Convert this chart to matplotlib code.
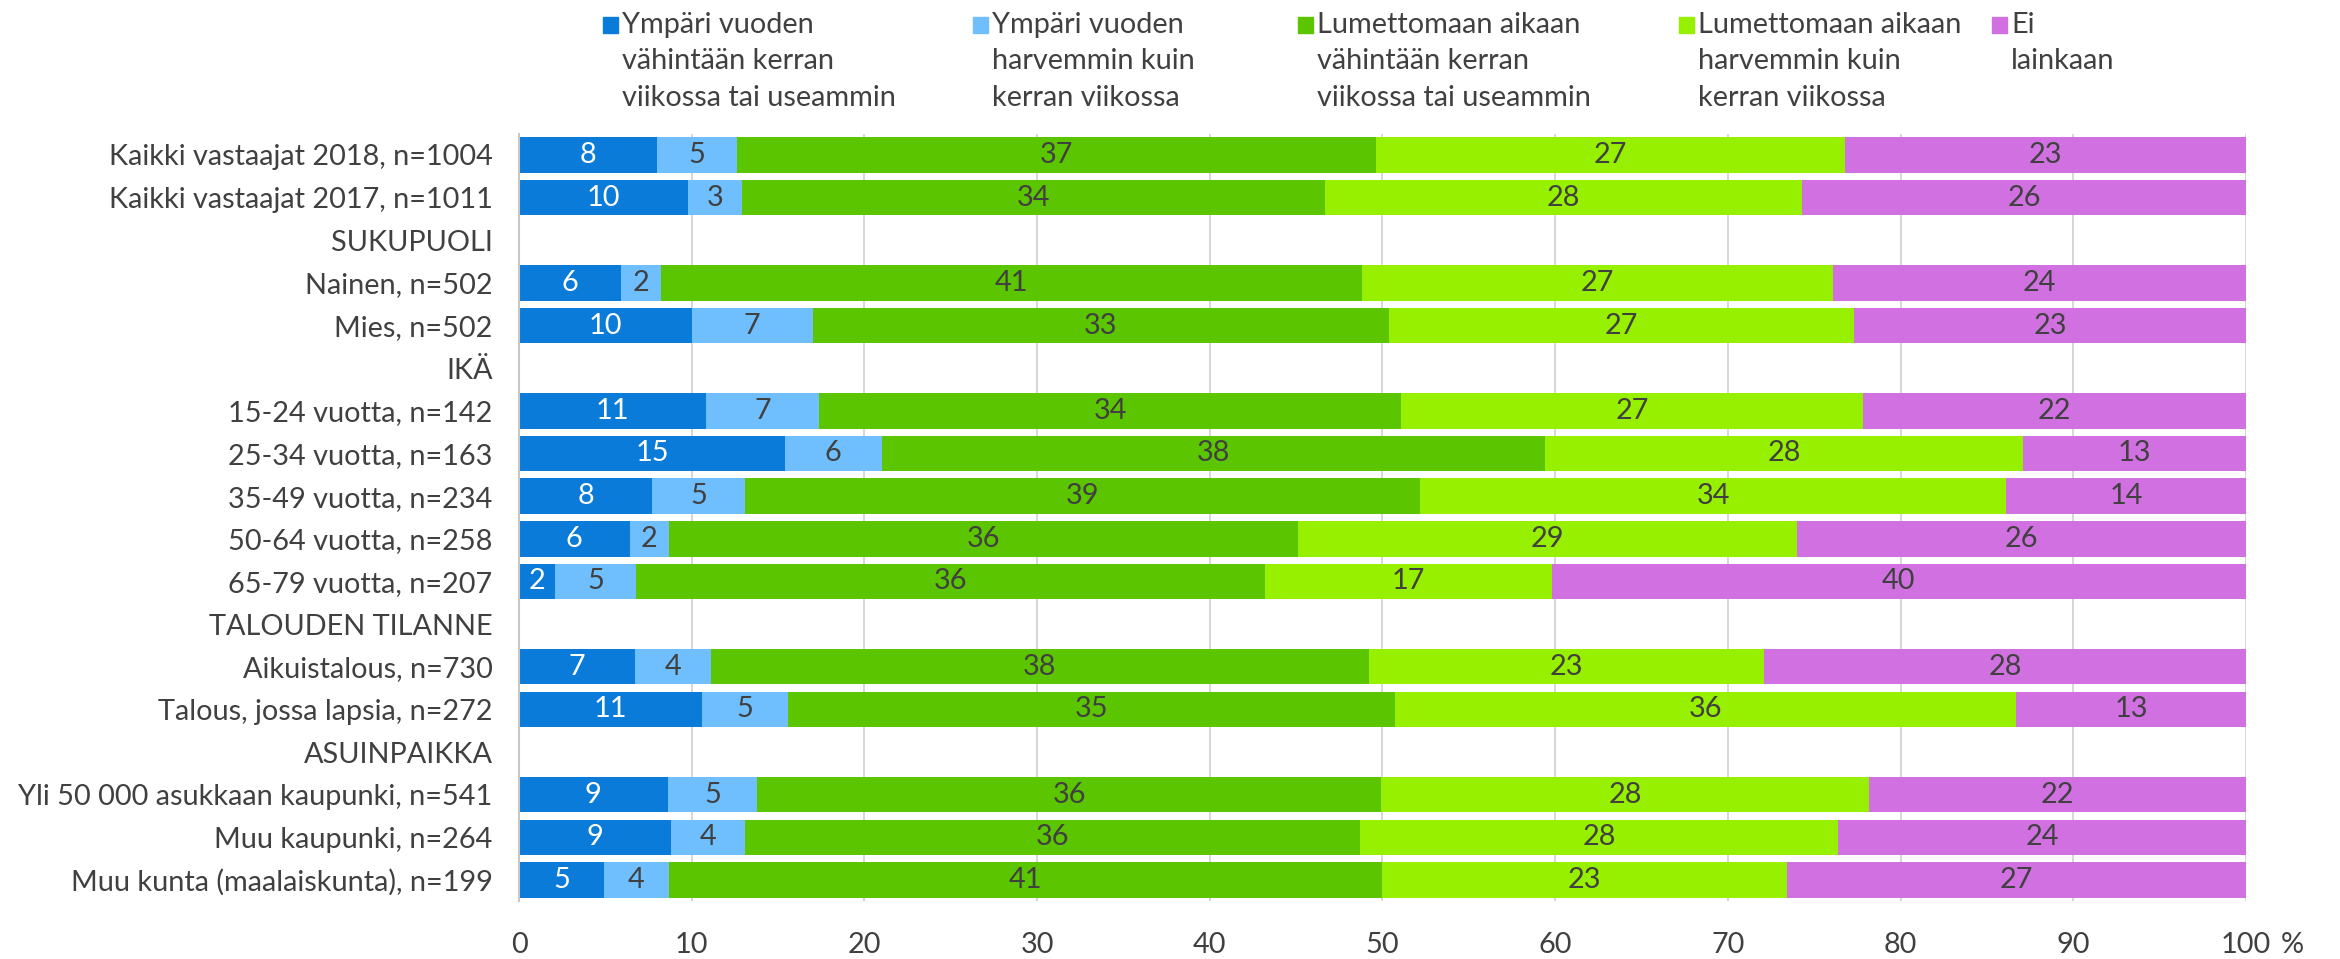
import numpy as np
import matplotlib
matplotlib.use("Agg")
import matplotlib.pyplot as plt
from matplotlib.patches import Rectangle

plt.rcParams['font.family'] = ['Lato', 'DejaVu Sans']

nan = np.nan

# rows top to bottom (headers have no bars)
categories = [
    "Kaikki vastaajat 2018, n=1004", "Kaikki vastaajat 2017, n=1011",
    "SUKUPUOLI", "Nainen, n=502", "Mies, n=502",
    "IKÄ", "15-24 vuotta, n=142", "25-34 vuotta, n=163", "35-49 vuotta, n=234",
    "50-64 vuotta, n=258", "65-79 vuotta, n=207",
    "TALOUDEN TILANNE", "Aikuistalous, n=730", "Talous, jossa lapsia, n=272",
    "ASUINPAIKKA", "Yli 50 000 asukkaan kaupunki, n=541", "Muu kaupunki, n=264",
    "Muu kunta (maalaiskunta), n=199",
]

series_names = [
    "Ympäri vuoden\nvähintään kerran\nviikossa tai useammin",
    "Ympäri vuoden\nharvemmin kuin\nkerran viikossa",
    "Lumettomaan aikaan\nvähintään kerran\nviikossa tai useammin",
    "Lumettomaan aikaan\nharvemmin kuin\nkerran viikossa",
    "Ei\nlainkaan",
]

year_weekly = [8.0, 9.8, nan, 5.9, 10.0, nan, 10.8, 15.4, 7.7, 6.4, 2.1, nan, 6.7, 10.6, nan, 8.6, 8.8, 4.9]
year_rarely = [4.6, 3.1, nan, 2.3, 7.0, nan, 6.6, 5.6, 5.4, 2.3, 4.7, nan, 4.4, 5.0, nan, 5.2, 4.3, 3.8]
summer_weekly = [37.0, 33.8, nan, 40.6, 33.4, nan, 33.7, 38.4, 39.1, 36.4, 36.4, nan, 38.1, 35.1, nan, 36.1, 35.6, 41.3]
summer_rarely = [27.2, 27.6, nan, 27.3, 26.9, nan, 26.7, 27.7, 33.9, 28.9, 16.6, nan, 22.9, 36.0, nan, 28.3, 27.7, 23.4]
not_at_all = [23.2, 25.7, nan, 23.9, 22.7, nan, 22.2, 12.9, 13.9, 26.0, 40.2, nan, 27.9, 13.3, nan, 21.8, 23.6, 26.6]

colors = ['#0A7BD8', '#6FBFFF', '#5BC500', '#97F000', '#D171E1']
label_colors = ['white', '#404040', '#404040', '#404040', '#404040']
text_color = '#404040'
fs = 20.8

fig = plt.figure(figsize=(23.4, 9.59), dpi=100)
ax = fig.add_axes([0.2218, 0.0601, 0.738, 0.8006])

y = np.arange(len(categories))
left = np.zeros(len(categories))
all_series = [year_weekly, year_rarely, summer_weekly, summer_rarely, not_at_all]
for vals, col, lcol in zip(all_series, colors, label_colors):
    vals = np.array(vals)
    bars = ax.barh(y, np.nan_to_num(vals), left=left, height=0.83, color=col, zorder=2)
    labels = ['' if np.isnan(v) else f"{v:.0f}" for v in vals]
    ax.bar_label(bars, labels=labels, label_type='center', color=lcol, fontsize=fs)
    left = left + np.nan_to_num(vals)

ax.set_xlim(0, 100)
ax.set_ylim(len(categories) - 0.5, -0.5)
ax.set_xticks(range(0, 101, 10))
ax.set_yticks(y)
ax.set_yticklabels(categories)
ax.tick_params(axis='y', length=0, pad=19, labelsize=fs, labelcolor=text_color)
ax.tick_params(axis='x', length=0, pad=22, labelsize=fs, labelcolor=text_color)
ax.grid(axis='x', color='#D0D0D0', linewidth=1.2, zorder=0)
for side in ['top', 'right', 'bottom']:
    ax.spines[side].set_visible(False)
ax.spines['left'].set_color('#C8C8C8')
ax.spines['left'].set_linewidth(1.5)
ax.annotate('%', xy=(1, 0), xycoords='axes fraction', xytext=(46, -44),
            textcoords='offset pixels', ha='center', va='center',
            fontsize=fs, color=text_color)

# legend drawn by hand so the marker sits on the first text line
W, H = 2340, 959
marker_x = [603, 973, 1298, 1679, 1992]
line_y = [25, 61, 98]
for name, col, mx in zip(series_names, colors, marker_x):
    fig.add_artist(Rectangle((mx / W, (H - line_y[0] - 8) / H), 15 / W, 16 / H,
                             transform=fig.transFigure, color=col))
    for line, ly in zip(name.split('\n'), line_y):
        fig.text((mx + 19) / W, (H - ly) / H, line, ha='left', va='center',
                 fontsize=fs, color=text_color)

fig.savefig('out.png', dpi=100)
